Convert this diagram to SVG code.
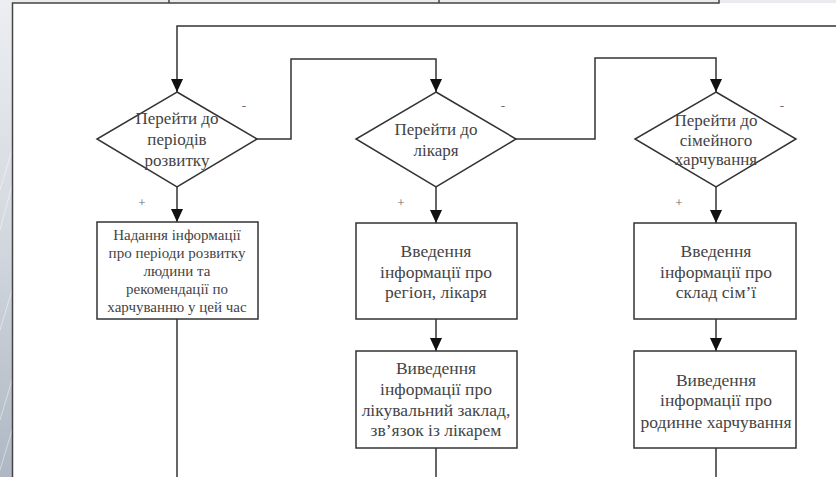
<svg xmlns="http://www.w3.org/2000/svg" width="836" height="477" viewBox="0 0 836 477">
  <defs>
    <linearGradient id="sideBg" x1="0" y1="0" x2="0" y2="1">
      <stop offset="0" stop-color="#eceef1"/>
      <stop offset="0.5" stop-color="#d3d8df"/>
      <stop offset="1" stop-color="#aeb7c3"/>
    </linearGradient>
    <marker id="arrow" viewBox="0 0 13 12" refX="13" refY="6" markerWidth="13" markerHeight="12" markerUnits="userSpaceOnUse" orient="auto">
      <path d="M0,0 L13,6 L0,12 Z" fill="#111"/>
    </marker>
    <style>
      .shape { fill: #fff; stroke: #333; stroke-width: 1.5; }
      .link { fill: none; stroke: #333; stroke-width: 1.5; }
      .frame { fill: none; stroke: #444; stroke-width: 1.5; }
      .lbl { fill: #444; text-anchor: middle; }
      .dia { font-size: 17px; }
      .big { font-size: 17.5px; }
      .small { font-size: 15px; }
      .sign { font-size: 13px; fill: #666; text-anchor: middle; }
    </style>
  </defs>

  <!-- page background -->
  <rect x="0" y="0" width="836" height="477" fill="#ffffff"/>
  <rect x="0" y="0" width="836" height="3" fill="#e9ebee"/>
  <rect x="0" y="0" width="12" height="477" fill="url(#sideBg)"/>
  <g stroke="#ffffff" stroke-opacity="0.45" stroke-width="1">
    <line x1="0" y1="190" x2="12" y2="150"/>
    <line x1="0" y1="230" x2="12" y2="185"/>
    <line x1="0" y1="330" x2="12" y2="290"/>
    <line x1="0" y1="420" x2="12" y2="380"/>
    <line x1="0" y1="470" x2="12" y2="430"/>
  </g>

  <!-- frame edges -->
  <path class="frame" d="M12.5,477 V3 H719 V0"/>
  <line class="frame" x1="169" y1="0" x2="169" y2="3"/>
  <line class="frame" x1="439" y1="0" x2="439" y2="3"/>

  <g font-family="'Liberation Serif', 'Times New Roman', 'DejaVu Serif', serif">
  <!-- connectors -->
  <g id="connectors">
    <path class="link" d="M836,26 H177 V92" marker-end="url(#arrow)"/>
    <path class="link" d="M257,139 H291 V59 H436 V92" marker-end="url(#arrow)"/>
    <path class="link" d="M516,139 H595 V58 H716 V92" marker-end="url(#arrow)"/>
    <path class="link" d="M177,187 V222" marker-end="url(#arrow)"/>
    <path class="link" d="M436,187 V223" marker-end="url(#arrow)"/>
    <path class="link" d="M716,187 V223" marker-end="url(#arrow)"/>
    <path class="link" d="M436,319 V351" marker-end="url(#arrow)"/>
    <path class="link" d="M716,319 V351" marker-end="url(#arrow)"/>
    <path class="link" d="M177,319 V477"/>
    <path class="link" d="M436,448 V477"/>
    <path class="link" d="M716,448 V477"/>
    <text class="sign" x="244" y="110">-</text>
    <text class="sign" x="503" y="110">-</text>
    <text class="sign" x="782" y="110">-</text>
    <text class="sign" x="142" y="207">+</text>
    <text class="sign" x="401" y="207">+</text>
    <text class="sign" x="679" y="207">+</text>
  </g>

  <!-- decision: development periods -->
  <g id="decision-periods">
    <polygon class="shape" points="177,92 257,139 177,187 97,139"/>
    <text class="lbl dia" x="177" y="124">Перейти до</text>
    <text class="lbl dia" x="177" y="145">періодів</text>
    <text class="lbl dia" x="177" y="166">розвитку</text>
  </g>

  <!-- decision: doctor -->
  <g id="decision-doctor">
    <polygon class="shape" points="436,92 516,139 436,187 356,139"/>
    <text class="lbl dia" x="436" y="135">Перейти до</text>
    <text class="lbl dia" x="436" y="156">лікаря</text>
  </g>

  <!-- decision: family nutrition -->
  <g id="decision-family">
    <polygon class="shape" points="716,92 796,139 716,187 635,139"/>
    <text class="lbl dia" x="716" y="126">Перейти до</text>
    <text class="lbl dia" x="716" y="146">сімейного</text>
    <text class="lbl dia" x="716" y="165">харчування</text>
  </g>

  <!-- process: periods info -->
  <g id="box-periods-info">
    <rect class="shape" x="97" y="222" width="161" height="97"/>
    <text class="lbl small" x="177" y="240">Надання інформації</text>
    <text class="lbl small" x="177" y="258">про періоди розвитку</text>
    <text class="lbl small" x="177" y="276">людини та</text>
    <text class="lbl small" x="177" y="294">рекомендації по</text>
    <text class="lbl small" x="177" y="312">харчуванню у цей час</text>
  </g>

  <!-- process: region and doctor input -->
  <g id="box-doctor-input">
    <rect class="shape" x="356" y="223" width="161" height="96"/>
    <text class="lbl big" x="436" y="257">Введення</text>
    <text class="lbl big" x="436" y="278">інформації про</text>
    <text class="lbl big" x="436" y="298">регіон, лікаря</text>
  </g>

  <!-- process: clinic output -->
  <g id="box-doctor-output">
    <rect class="shape" x="356" y="351" width="161" height="97"/>
    <text class="lbl big" x="436" y="374">Виведення</text>
    <text class="lbl big" x="436" y="395">інформації про</text>
    <text class="lbl big" x="436" y="416">лікувальний заклад,</text>
    <text class="lbl big" x="436" y="436">зв’язок із лікарем</text>
  </g>

  <!-- process: family input -->
  <g id="box-family-input">
    <rect class="shape" x="634" y="223" width="162" height="96"/>
    <text class="lbl big" x="716" y="257">Введення</text>
    <text class="lbl big" x="716" y="278">інформації про</text>
    <text class="lbl big" x="716" y="298">склад сім’ї</text>
  </g>

  <!-- process: family nutrition output -->
  <g id="box-family-output">
    <rect class="shape" x="634" y="351" width="162" height="97"/>
    <text class="lbl big" x="716" y="386">Виведення</text>
    <text class="lbl big" x="716" y="406">інформації про</text>
    <text class="lbl big" x="716" y="428">родинне харчування</text>
  </g>
  </g>
</svg>
